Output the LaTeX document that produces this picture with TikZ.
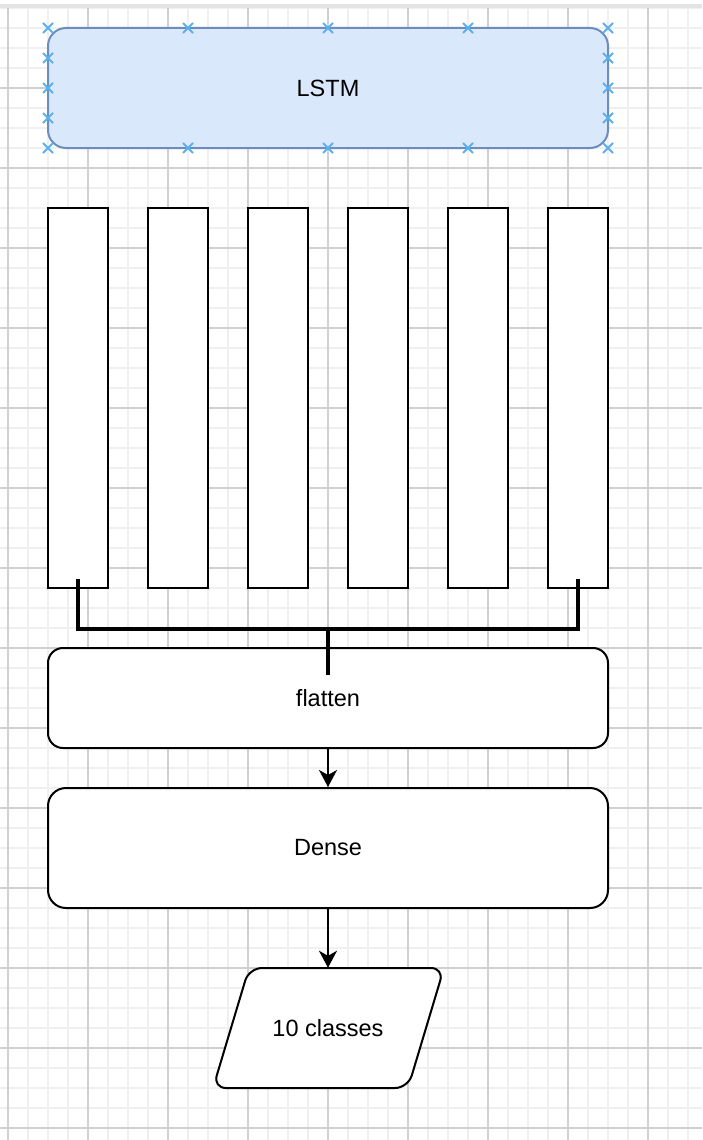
\documentclass[tikz,border=0pt]{standalone}
\usepackage{fontspec}
\setmainfont{Liberation Sans}
\usetikzlibrary{arrows.meta,calc}
\definecolor{gridminor}{HTML}{F0F0F0}
\definecolor{gridmajor}{HTML}{D0D0D0}
\definecolor{topband}{HTML}{E4E4E4}
\definecolor{lstmfill}{HTML}{DAE8FC}
\definecolor{lstmdraw}{HTML}{6C8EBF}
\definecolor{marker}{HTML}{5AB0EE}
\tikzset{
  lbl/.style={font=\fontsize{23.5}{27}\selectfont, text=black},
  lstmbox/.style={lbl, draw=lstmdraw, fill=lstmfill, line width=2pt, rounded corners=18pt,
    minimum width=560pt, minimum height=120pt, inner sep=0pt},
  barbox/.style={draw=black, fill=white, line width=2pt, minimum width=60pt, minimum height=380pt, inner sep=0pt},
  layerbox/.style={lbl, draw=black, fill=white, line width=2pt, rounded corners=#1,
    minimum width=560pt, inner sep=0pt},
  conn/.style={draw=black, line width=4pt, line join=miter},
  arr/.style={draw=black, line width=2pt, -{Stealth[length=17pt,width=18pt,inset=5pt]}},
  mk/.style={draw=marker, line width=1.8pt},
}
\begin{document}
\begin{tikzpicture}[x=1pt,y=-1pt]
% background and page
\fill[white] (0,0) rectangle (702,1140);
\useasboundingbox (0,0) rectangle (702,1140);
\begin{scope}
\clip (0,9) rectangle (702,1140);
\foreach \i in {0,...,35} {\draw[gridminor, line width=1.6pt] ({8+20*\i},0) -- ({8+20*\i},1140);}
\foreach \i in {0,...,57} {\draw[gridminor, line width=1.6pt] (0,{8+20*\i}) -- (702,{8+20*\i});}
\foreach \i in {0,...,8} {\draw[gridmajor, line width=1.1pt] ({8+80*\i},0) -- ({8+80*\i},1140);}
\foreach \i in {1,...,14} {\draw[gridmajor, line width=1.1pt] (0,{8+80*\i}) -- (702,{8+80*\i});}
\end{scope}
\fill[topband] (0,4) rectangle (702,8);

% LSTM
\node[lstmbox] (lstm) at (328,88) {LSTM};
\foreach \x in {48,188,328,468,608} {
  \draw[mk] (\x-5,28-5) -- (\x+5,28+5) (\x-5,28+5) -- (\x+5,28-5);
  \draw[mk] (\x-5,148-5) -- (\x+5,148+5) (\x-5,148+5) -- (\x+5,148-5);
}
\foreach \y in {58,88,118} {
  \draw[mk] (48-5,\y-5) -- (48+5,\y+5) (48-5,\y+5) -- (48+5,\y-5);
  \draw[mk] (608-5,\y-5) -- (608+5,\y+5) (608-5,\y+5) -- (608+5,\y-5);
}

% bars
\node[barbox] (b1) at (78,398) {};
\node[barbox] (b2) at (178,398) {};
\node[barbox] (b3) at (278,398) {};
\node[barbox] (b4) at (378,398) {};
\node[barbox] (b5) at (478,398) {};
\node[barbox] (b6) at (578,398) {};

% layers
\node[layerbox=15pt, minimum height=100pt] (flat) at (328,698) {flatten};
\node[layerbox=18pt, minimum height=120pt] (dense) at (328,848) {Dense};

% output parallelogram
\draw[black, fill=white, line width=2pt, rounded corners=13pt]
  (249,968) -- (444,968) -- (408,1088) -- (213,1088) -- cycle;
\node[lbl, minimum width=195pt, minimum height=120pt, inner sep=0pt] (cls) at (328,1028) {10 classes};

% connectors
\draw[conn] ([yshift=10pt]b1.south) -- ++(0,50) -| ([yshift=10pt]b6.south);
\coordinate (join) at ($(b1.south)!0.5!(b6.south)+(0,40)$);
\draw[conn] (join) -- ([yshift=-28pt]flat.north);
\draw[arr] (flat.south) -- (dense.north);
\draw[arr] (dense.south) -- (cls.north);
\end{tikzpicture}
\end{document}
